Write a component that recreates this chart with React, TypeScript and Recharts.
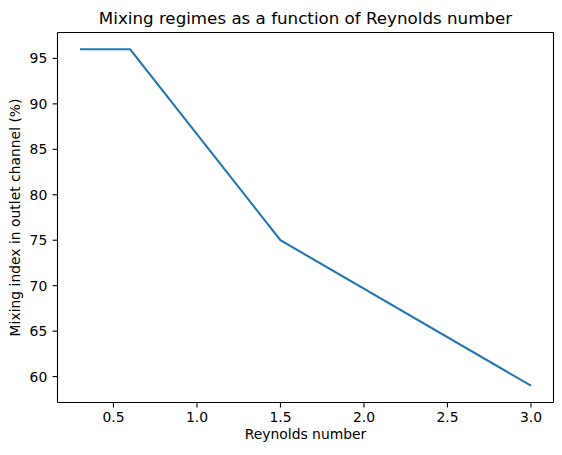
import React from "react";
import { LineChart, Line, XAxis, YAxis } from "recharts";

const reynolds = [0.3, 0.6, 1.5, 3.0];
const mixingIndex = [96, 96, 75, 59];
const xTicks = [0.5, 1.0, 1.5, 2.0, 2.5, 3.0];
const yTicks = [60, 65, 70, 75, 80, 85, 90, 95];

const title = "Mixing regimes as a function of Reynolds number";
const xLabel = "Reynolds number";
const yLabel = "Mixing index in outlet channel (%)";

const data = reynolds.map((re, i) => ({ re, mix: mixingIndex[i] }));

const FONT = "'DejaVu Sans', sans-serif";
const W = 562;
const H = 455;
const tickStyle = { fill: "#000", fontSize: 13.9, fontFamily: FONT };
const spine = { stroke: "#000", strokeWidth: 1.1 };

export default function App() {
  return (
    <div style={{ position: "absolute", left: 0, top: 0, width: W, height: H, background: "#fff" }}>
      <LineChart
        width={W}
        height={H}
        data={data}
        margin={{ top: 31.5, right: 7.5, left: 0, bottom: 0 }}
      >
        <XAxis
          dataKey="re"
          type="number"
          domain={[0.165, 3.135]}
          ticks={xTicks}
          tickFormatter={(v: number) => v.toFixed(1)}
          tick={tickStyle}
          tickSize={4.9}
          tickMargin={4.7}
          tickLine={spine}
          axisLine={spine}
          height={52.5}
          allowDataOverflow
        />
        <XAxis
          xAxisId="top"
          orientation="top"
          dataKey="re"
          type="number"
          domain={[0.165, 3.135]}
          ticks={xTicks}
          tick={false}
          tickLine={false}
          axisLine={spine}
          height={1}
        />
        <YAxis
          type="number"
          domain={[57.15, 97.85]}
          ticks={yTicks}
          tick={tickStyle}
          tickSize={4.9}
          tickMargin={5.3}
          tickLine={spine}
          axisLine={spine}
          width={57.5}
          allowDataOverflow
        />
        <YAxis
          yAxisId="right"
          orientation="right"
          type="number"
          domain={[57.15, 97.85]}
          ticks={yTicks}
          tick={false}
          tickLine={false}
          axisLine={spine}
          width={1}
        />
        <Line
          dataKey="mix"
          type="linear"
          stroke="#1f77b4"
          strokeWidth={2.08}
          dot={false}
          activeDot={false}
          isAnimationActive={false}
        />
      </LineChart>
      <svg
        width={W}
        height={H}
        style={{ position: "absolute", left: 0, top: 0, pointerEvents: "none" }}
        fontFamily={FONT}
      >
        <text x={305.5} y={24} textAnchor="middle" fontSize={16.7} fill="#000">
          {title}
        </text>
        <text x={305.5} y={439} textAnchor="middle" fontSize={13.9} fill="#000">
          {xLabel}
        </text>
        <text
          x={0}
          y={0}
          transform="translate(19.5, 217.5) rotate(-90)"
          textAnchor="middle"
          fontSize={13.9}
          fill="#000"
        >
          {yLabel}
        </text>
      </svg>
    </div>
  );
}
